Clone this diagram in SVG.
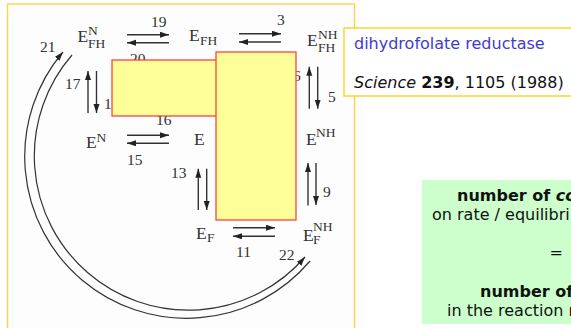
<svg xmlns="http://www.w3.org/2000/svg" width="571" height="328" viewBox="0 0 571 328">
<style>
.e{font-family:"Liberation Serif",serif;font-size:17.5px;fill:#333}
.s{font-family:"Liberation Serif",serif;font-size:13.5px;fill:#333}
.n{font-family:"Liberation Serif",serif;font-size:15.5px;fill:#333}
.v{font-family:"DejaVu Sans",sans-serif;font-size:16px;fill:#111}
.a{fill:none;stroke:#333;stroke-width:1.4;marker-end:url(#h)}
.c{fill:none;stroke:#333;stroke-width:1.2}
.y{fill:#ffff99;stroke:#ff3333;stroke-width:1.2}
</style>
<defs><marker id="h" markerUnits="userSpaceOnUse" markerWidth="10" markerHeight="8" refX="9" refY="3" orient="auto"><path d="M0 0L9 3L0 6z" fill="#222"/></marker></defs>
<rect width="571" height="328" fill="#fff"/>
<rect x="7.500" y="4" width="347" height="340" fill="#fdfdfd" stroke="#ffd24d" stroke-width="1.4"/>
<g id="connectors">
<path class="a" d="M127 34.700H169"/><path class="a" d="M169 42.700H127"/>
<path class="a" d="M239 33.700H281"/><path class="a" d="M281 42H239"/>
<path class="a" d="M88 113V71"/><path class="a" d="M96.500 71V113"/>
<path class="a" d="M127 135.300H169"/><path class="a" d="M169 143.300H127"/>
<path class="a" d="M309.300 108.700V66.700"/><path class="a" d="M317.700 66.700V108.700"/>
<path class="a" d="M198.300 210V168.700"/><path class="a" d="M206.700 168.700V210"/>
<path class="a" d="M308 205.500V163"/><path class="a" d="M316 163V205"/>
<path class="a" d="M233 227.700H275"/><path class="a" d="M275 236.300H233"/>
<path class="c" d="M310 261A161.500 161.500 0 1 1 63 52" marker-end="url(#h)"/>
<path class="c" d="M72 55A153.700 153.700 0 1 0 305 257" marker-end="url(#h)"/>
</g>
<g id="labels">
<text class="n" x="151" y="27">19</text>
<text class="n" x="277" y="25">3</text>
<text class="n" x="40" y="52">21</text>
<text class="n" x="130" y="64">20</text>
<text class="n" x="65" y="89">17</text>
<text class="n" x="104" y="109">1</text>
<text class="n" x="156" y="125">16</text>
<text class="n" x="127" y="165">15</text>
<text class="n" x="293" y="81">6</text>
<text class="n" x="328" y="102">5</text>
<text class="n" x="171" y="178">13</text>
<text class="n" x="323" y="197">9</text>
<text class="n" x="236" y="257">11</text>
<text class="n" x="279" y="260">22</text>
</g>
<g id="n-EN-FH"><text class="e" x="77.500" y="42">E</text><text class="s" x="88" y="35">N</text><text class="s" x="88" y="48">FH</text></g>
<g id="n-E-FH"><text class="e" x="189" y="41">E</text><text class="s" x="200" y="45">FH</text></g>
<g id="n-ENH-FH"><text class="e" x="307" y="46">E</text><text class="s" x="318" y="39">NH</text><text class="s" x="318" y="52">FH</text></g>
<g id="n-EN"><text class="e" x="86" y="148">E</text><text class="s" x="96.500" y="141.700">N</text></g>
<g id="n-E"><text class="e" x="194" y="145">E</text></g>
<g id="n-ENH"><text class="e" x="306" y="145">E</text><text class="s" x="316" y="137">NH</text></g>
<g id="n-E-F"><text class="e" x="196" y="239">E</text><text class="s" x="207" y="242">F</text></g>
<g id="n-ENH-F"><text class="e" x="303" y="241">E</text><text class="s" x="313" y="231">NH</text><text class="s" x="313" y="244">F</text></g>
<g id="cover-a"><rect class="y" x="112" y="60" width="110" height="56"/></g>
<g id="cover-b"><rect class="y" x="216" y="52" width="80" height="168"/></g>
<g id="title"><rect x="344" y="28" width="240" height="68" fill="#fff" stroke="#ffcc00" stroke-width="1.2"/>
<text class="v" x="354" y="49" style="fill:#3d3dcc">dihydrofolate reductase</text>
<text class="v" x="354" y="88"><tspan font-style="italic">Science</tspan> <tspan font-weight="700">239</tspan>, 1105 (1988)</text></g>
<g id="note"><rect x="422" y="180" width="149" height="144" fill="#ccffcc"/>
<text class="v" x="457" y="201"><tspan font-weight="700">number of </tspan><tspan font-style="italic" font-weight="700">co</tspan></text>
<text class="v" x="432" y="220">on rate / equilibri</text>
<text class="v" x="549.500" y="258">=</text>
<text class="v" x="480" y="297" font-weight="700">number of</text>
<text class="v" x="447" y="316">in the reaction r</text></g>
</svg>
